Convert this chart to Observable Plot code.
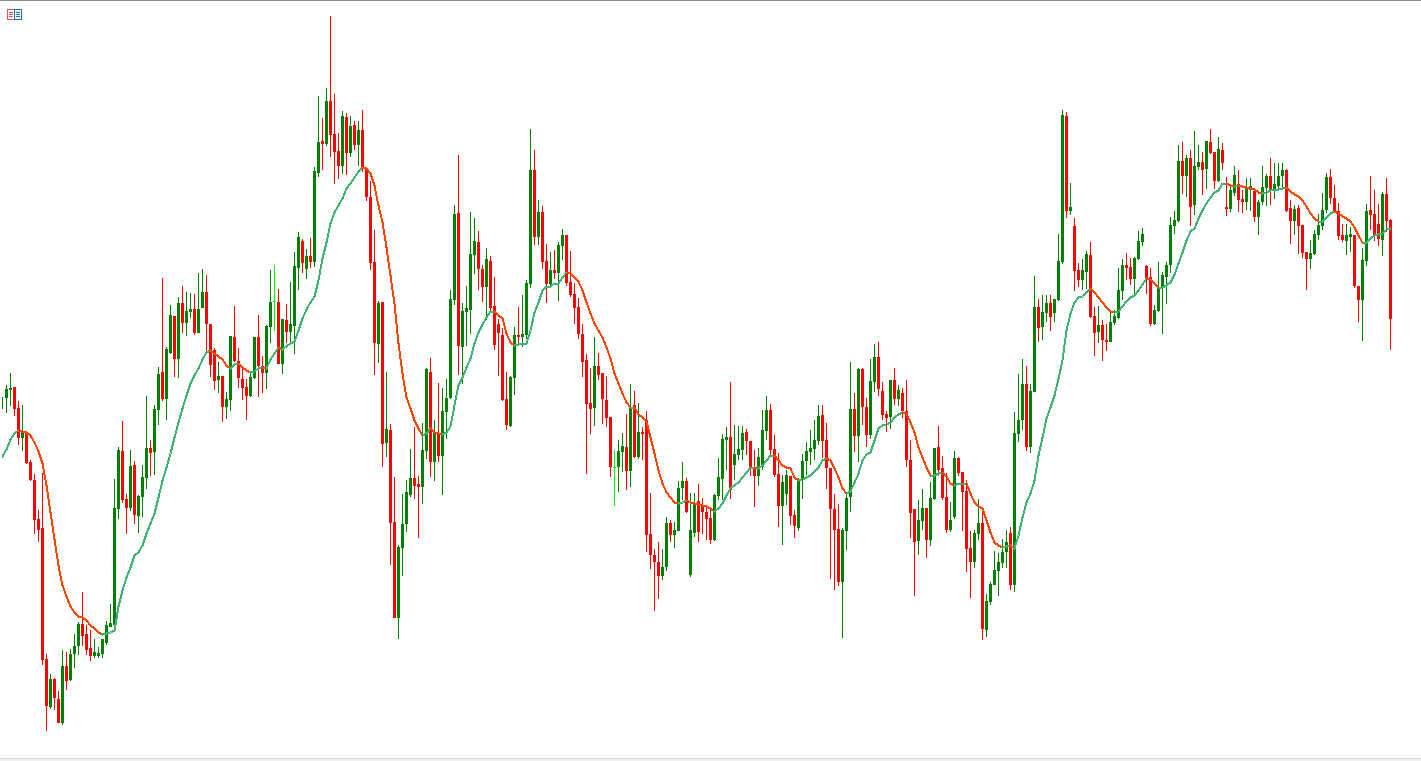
<!DOCTYPE html>
<html>
<head>
<meta charset="utf-8">
<script src="https://cdn.jsdelivr.net/npm/d3@7"></script>
<script src="https://cdn.jsdelivr.net/npm/@observablehq/plot@0.6"></script>
<style>
html,body{margin:0;padding:0;background:#fff;overflow:hidden}
#wrap{position:relative;width:1421px;height:761px}
#wrap svg.chart,#wrap>svg{display:block}
#top{position:absolute;left:0;top:0;width:1421px;height:1px;background:#8c8c8c}
#bottom{position:absolute;left:0;top:758px;width:1421px;height:3px;background:#f0f0f0;border-top:1px solid #dcdcdc;box-sizing:border-box}
#icon{position:absolute;left:7px;top:9px}
</style>
</head>
<body>
<div id="wrap">
<div id="chart"></div>
<div id="top"></div>
<div id="bottom"></div>
<svg id="icon" width="15" height="11" viewBox="0 0 15 11" shape-rendering="crispEdges">
<rect x="0.5" y="0.5" width="7" height="10" fill="#fff" stroke="#e2574c"/>
<rect x="7.5" y="0.5" width="7" height="10" fill="#fff" stroke="#1f6fb2"/>
<path d="M2 3.5h4M2 5.5h4M2 7.5h4" stroke="#e2574c"/>
<path d="M9 3.5h4M9 5.5h4M9 7.5h4" stroke="#1f6fb2"/>
</svg>
</div>
<script>
const highs = [
364,376,388,374,360,356,330,301,287,251,
288,107,87,83,70,111,109,112,127,139,
169,136,131,122,114,122,140,157,282,314,
340,267,311,300,266,296,365,321,356,394,
483,414,456,445,464,475,469,468,467,488,
492,486,437,413,399,385,369,425,455,413,
392,382,388,424,446,405,436,491,496,472,
442,457,479,509,529,522,512,523,594,665,
643,673,745,667,628,650,648,645,640,640,
651,594,580,531,460,459,389,337,284,216,
267,281,312,334,285,338,393,403,341,378,
373,382,471,556,606,458,475,549,543,530,
496,513,505,484,442,433,389,385,434,454,
466,481,632,611,561,555,517,509,511,519,
532,526,510,478,463,437,407,393,424,408,
388,385,344,311,321,328,347,377,370,358,
334,350,268,212,219,212,244,241,239,280,
299,283,268,268,277,263,256,254,267,303,
327,334,379,336,335,335,332,320,311,313,
351,365,357,326,308,286,291,285,251,283,
307,319,331,341,356,356,338,293,267,257,
233,266,399,368,393,393,363,402,417,419,
379,350,381,393,376,373,381,321,252,261,
272,253,279,313,335,305,288,259,310,304,
289,281,230,231,262,254,167,179,210,208,
222,231,234,349,387,402,395,377,485,462,
466,466,466,462,527,651,649,578,543,498,
502,510,519,454,455,441,437,451,451,493,
502,508,503,504,530,533,496,493,456,499,
489,499,544,550,616,619,606,611,630,616,
609,620,632,609,624,618,584,575,595,591,
571,583,583,571,561,595,587,603,598,598,
598,592,561,556,556,536,509,521,531,547,
568,588,592,576,558,537,537,534,526,475,
513,557,585,571,557,569,583,542];
const bodyHigh = [
358,372,373,374,353,329,329,299,281,242,
233,102,82,82,62,95,95,107,115,137,
137,127,113,109,108,122,136,138,253,311,
310,262,295,296,265,284,313,313,352,387,
389,412,446,445,458,458,450,452,452,452,
469,469,437,411,385,385,362,425,424,400,
382,374,384,424,424,395,435,459,460,459,
442,441,437,495,524,520,505,505,590,619,
620,660,660,627,610,645,644,635,636,631,
631,593,564,499,458,459,332,331,239,214,
237,269,283,283,277,311,392,389,328,328,
350,363,462,547,548,450,453,507,520,519,
492,502,500,455,437,426,362,384,426,426,
427,478,591,591,549,549,500,491,491,516,
526,526,479,467,454,427,401,358,395,395,
388,361,344,294,310,315,314,353,356,329,
329,341,227,206,199,194,238,238,231,273,
280,280,231,257,260,255,249,243,266,284,
322,324,324,307,312,328,329,320,294,304,
331,351,351,312,287,279,286,285,246,281,
300,310,313,321,345,346,321,293,252,232,
231,263,352,352,392,392,354,380,404,404,
370,347,381,381,371,368,350,301,252,241,
253,253,263,313,314,293,264,241,303,303,
289,270,213,228,238,238,160,177,191,199,
209,219,228,328,341,377,377,370,454,454,
449,458,458,462,500,646,645,554,535,491,
491,507,506,445,436,436,421,439,445,471,
496,496,494,503,520,527,495,484,451,473,
486,496,536,541,600,600,603,603,595,599,
599,620,619,609,612,611,554,571,586,577,
562,574,575,570,559,574,585,585,577,585,
591,591,553,552,553,536,509,508,527,536,
551,584,584,563,550,526,526,527,526,475,
501,550,551,547,537,567,567,541];
const bodyLow = [
358,363,371,352,323,323,298,281,241,231,
101,55,54,63,38,38,80,81,107,115,
125,111,105,105,105,107,118,134,136,252,
261,253,253,246,245,264,283,308,309,351,
362,362,408,402,402,438,438,449,428,428,
453,437,396,380,381,354,354,361,400,383,
373,365,365,383,395,388,388,434,459,397,
397,429,429,435,493,498,492,499,499,588,
617,617,626,609,595,595,608,608,616,616,
593,564,498,418,417,317,318,238,143,143,
213,237,266,275,274,274,310,299,299,305,
305,349,363,461,415,414,449,451,506,492,
474,474,453,416,428,361,336,335,383,424,
424,426,477,524,524,499,477,477,488,488,
515,478,466,453,427,399,357,352,353,386,
362,343,294,293,294,309,290,290,304,304,
327,226,206,199,185,185,194,226,226,230,
273,249,186,228,229,249,242,221,221,265,
282,321,271,296,306,311,320,294,285,285,
294,330,311,286,255,255,267,245,235,233,
281,300,309,312,320,320,293,252,231,179,
179,230,264,325,325,354,326,326,379,372,
346,343,344,362,362,350,301,248,219,220,
240,221,221,262,291,263,231,231,244,288,
269,212,199,199,227,132,131,159,176,190,
198,209,176,176,327,341,314,314,369,433,
434,448,444,448,461,499,550,550,490,481,
481,489,444,428,429,421,419,419,438,443,
470,493,482,482,502,519,483,437,437,450,
473,484,496,535,540,585,585,554,556,594,
591,592,608,580,580,598,552,552,568,561,
559,559,571,544,544,559,573,571,572,575,
585,550,540,540,535,508,502,502,507,526,
535,551,563,550,525,521,520,524,475,461,
461,500,546,526,522,521,540,442];
const lows = [
352,348,355,345,316,310,297,280,227,219,
96,30,52,51,38,36,71,80,93,106,
115,106,100,103,103,103,116,134,134,242,
258,227,250,237,228,244,272,285,286,336,
360,341,407,384,383,428,425,443,426,428,
453,409,384,371,368,339,342,350,399,373,
361,341,364,382,364,368,372,418,430,397,
387,418,419,407,471,488,482,493,494,584,
591,615,604,577,582,587,586,604,611,595,
589,560,491,386,398,294,304,196,143,122,
185,229,264,262,223,257,302,284,280,299,
266,322,362,456,386,377,415,427,487,471,
459,441,449,411,385,360,331,334,366,415,
414,422,473,516,516,492,458,473,482,460,
501,475,464,437,422,384,287,327,335,381,
337,334,284,255,269,289,271,274,303,302,
301,209,192,150,162,181,190,219,213,230,
261,248,184,224,219,227,221,217,220,261,
261,291,262,281,301,301,306,285,254,275,
291,321,306,284,234,216,256,236,223,230,
262,286,296,301,316,303,272,182,171,175,
123,211,249,309,299,336,314,322,369,365,
341,329,332,356,355,343,294,223,165,206,
231,203,215,261,285,261,228,229,242,285,
230,189,163,193,221,121,124,156,176,165,
193,193,171,169,319,331,310,308,369,419,
421,439,430,439,460,497,543,546,470,474,
471,472,443,405,418,400,410,419,436,442,
461,481,476,466,501,515,467,435,436,449,
427,457,488,527,539,567,564,535,546,591,
566,572,607,572,579,591,545,549,565,549,
548,551,550,539,526,556,555,556,562,571,
571,549,517,526,507,503,471,492,506,521,
531,548,557,549,521,519,506,509,473,439,
420,495,531,520,515,505,529,411];
const dirs = (
"gggrrgrrrr"+"rrgrrgrggg"+"rrrggggggg"+"rrgrgggrgg"+"rggrgrggrg"+
"grrrgrggrr"+"rrggrrgglr"+"grgggrgrgg"+"rgrrrgrgrg"+"rrrrgrgrrg"+
"gggrrggrgr"+"ggggrggggr"+"rgrrrrrggr"+"gggrgrrgrg"+"grrrrrrrgr"+
"rrrlggrgrg"+"rrrrrggrgg"+"grggrrrrgg"+"ggrgggrrrg"+"ggrrrggrrg"+
"gggggrrrrr"+"gggrgrrggr"+"rrgrgrrrrg"+"grggrrrggr"+"rrrggrgggg"+
"ggrgggrggr"+"ggrgggrgrr"+"ggrrgrrggg"+"grrgggrrgg"+"gggggrgrgg"+
"rgrrgrrggr"+"rggrgggrgg"+"grrgrrrggg"+"ggrrrrggrr"+"ggrrrgrr").split("");
const movingAverage = [
305,312,322,328,331,330,329,326,319,310,
298,276,249,222,196,176,165,155,149,145,
144,141,136,133,129,127,128,129,131,155,
171,184,194,206,209,216,228,238,248,264,
281,294,308,324,339,353,366,378,386,393,
402,409,411,408,405,402,396,393,397,398,
394,391,389,390,393,394,393,402,408,414,
412,415,418,420,431,443,452,459,465,481,
503,519,538,549,556,563,573,578,584,590,
594,593,588,576,556,539,514,486,458,418,
388,364,353,341,333,326,328,333,329,328,
327,329,335,356,376,384,394,403,418,429,
437,444,450,450,446,443,428,419,416,417,
418,418,431,449,459,471,475,475,478,478,
484,489,488,484,480,471,459,448,438,431,
424,414,403,388,378,368,359,354,354,347,
344,340,324,308,291,278,269,264,259,258,
259,261,259,258,257,256,255,253,250,253,
258,266,273,276,279,284,289,294,294,293,
296,301,306,306,301,296,294,293,284,281,
282,284,286,290,294,301,303,301,293,284,
273,268,270,279,288,301,307,309,321,333,
336,337,339,344,347,349,348,339,329,314,
304,294,286,286,288,289,285,278,276,278,
278,278,268,259,255,253,241,229,219,216,
214,215,216,213,226,244,259,268,281,306,
324,343,354,366,383,401,431,448,459,464,
465,469,473,469,464,459,454,450,449,450,
455,460,464,466,471,477,483,482,478,474,
474,476,479,487,498,509,521,530,533,543,
551,558,564,569,571,578,578,576,575,576,
575,574,573,572,569,568,569,571,572,572,
573,574,570,567,565,561,555,548,543,540,
540,544,548,550,548,545,543,540,534,526,
519,519,523,526,527,528,532,533];

const candles = highs.map((high, i) => ({
  i, high, low: lows[i], upper: bodyHigh[i], lower: bodyLow[i], dir: dirs[i]
}));
const maRows = movingAverage.map((v, i) => ({
  i, v, trend: (movingAverage[i + 1] ?? v) >= v ? "rising" : "falling"
}));

const chart = Plot.plot({
  width: 1421,
  height: 761,
  margin: 0,
  style: {background: "#fff"},
  x: {domain: [0, 347], range: [2, 1390], axis: null},
  y: {domain: [0, 761], range: [761, 0], axis: null},
  color: {
    domain: ["g", "r", "l", "rising", "falling"],
    range: ["#008000", "#ff0000", "#00ff00", "#3cb371", "#ff4500"]
  },
  marks: [
    Plot.ruleX(candles, {x: "i", y1: "low", y2: "high", stroke: "dir", strokeWidth: 1, shapeRendering: "crispEdges"}),
    Plot.ruleX(candles, {x: "i", y1: "lower", y2: "upper", stroke: "dir", strokeWidth: 3, shapeRendering: "crispEdges"}),
    Plot.line(maRows, {x: "i", y: "v", z: null, stroke: "trend", strokeWidth: 2, strokeLinejoin: "round", shapeRendering: "crispEdges"})
  ]
});
document.getElementById("chart").appendChild(chart);
</script>
</body>
</html>
